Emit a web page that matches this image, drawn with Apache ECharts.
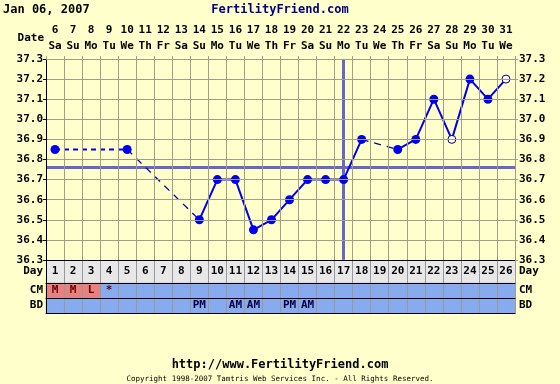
<!DOCTYPE html>
<html><head><meta charset="utf-8">
<script src="https://cdn.jsdelivr.net/npm/echarts@6/dist/echarts.min.js"></script>
<style>html,body{margin:0;padding:0;background:#FFFFCC}#c{width:560px;height:384px}</style>
</head><body><div id="c"></div>
<script>
// ---- data ----
const cycleDays = ['1','2','3','4','5','6','7','8','9','10','11','12','13','14','15','16','17','18','19','20','21','22','23','24','25','26'];
const dates = ['6','7','8','9','10','11','12','13','14','15','16','17','18','19','20','21','22','23','24','25','26','27','28','29','30','31'];
const weekdays = ['Sa','Su','Mo','Tu','We','Th','Fr','Sa','Su','Mo','Tu','We','Th','Fr','Sa','Su','Mo','Tu','We','Th','Fr','Sa','Su','Mo','Tu','We'];
const temps = [36.85,null,null,null,36.85,null,null,null,36.5,36.7,36.7,36.45,36.5,36.6,36.7,36.7,36.7,36.9,null,36.85,36.9,37.1,36.9,37.2,37.1,37.2];
const openPoints = ['23','26'];
const coverline = 36.76;
const ovulationDay = '17';
const cm = ['M','M','L','*','','','','','','','','','','','','','','','','','','','','','',''];
const bd = ['','','','','','','','','PM','','AM','AM','','PM','AM','','','','','','','','','','',''];
const tempMin = 36.3, tempMax = 37.3, tempStep = 0.1;
const headerDate = 'Jan 06, 2007';
const siteName = 'FertilityFriend.com';
const footerUrl = 'http://www.FertilityFriend.com';
const copyright = 'Copyright 1998-2007 Tamtris Web Services Inc. - All Rights Reserved.';

// ---- chart ----
const FONT = '"DejaVu Sans Mono", monospace';
const GRID = '#A09E88';
const BLUE = '#0000EE';
const chart = echarts.init(document.getElementById('c'));
const L = 46, R = 45;

function rowAxes(gridIndex, name) {
  return [
    {gridIndex, type:'category', data:[name], position:'left', z:10,
     axisLine:{lineStyle:{color:'#000'}}, axisTick:{show:false},
     axisLabel:{fontFamily:FONT, fontWeight:'bold', fontSize:11, color:'#000', margin:3}},
    {gridIndex, type:'category', data:[name], position:'right', z:10,
     axisLine:{lineStyle:{color:GRID}}, axisTick:{show:false},
     axisLabel:{fontFamily:FONT, fontWeight:'bold', fontSize:11, color:'#000', margin:4}}
  ];
}
function rowX(gridIndex) {
  return {gridIndex, type:'category', data:cycleDays, position:'bottom', z:10,
    axisLine:{lineStyle:{color:'#000'}}, axisTick:{show:false}, axisLabel:{show:false},
    splitLine:{show:true, interval:0, lineStyle:{color:'#999'}}};
}

const mainData = temps.map((v,i) => {
  if (v === null) return '-';
  if (openPoints.includes(cycleDays[i])) {
    return {value:v, itemStyle:{color:'#FFFFFF', borderColor:'#000080', borderWidth:1}, symbolSize:8};
  }
  return v;
});

// gap connector series
const gapSeries = [];
let prev = -1, gapCount = 0;
temps.forEach((v,i) => {
  if (v === null) return;
  if (prev >= 0 && i - prev > 1) {
    const d = temps.map(() => '-');
    d[prev] = temps[prev]; d[i] = temps[i];
    const first = gapCount === 0;
    gapSeries.push({type:'line', xAxisIndex:0, yAxisIndex:0, data:d, connectNulls:true, symbol:'none', z:1,
      lineStyle: first ? {color:BLUE, width:2, type:[5,4]} : {color:'#0000AA', width:1.3, type:[7,6]}});
    gapCount++;
  }
  prev = i;
});

const cellLabel = {show:true, fontFamily:FONT, fontWeight:'bold', fontSize:11, color:'#000'};

chart.setOption({
  animation:false,
  backgroundColor:'#FFFFCC',
  grid:[
    {left:L, right:R, top:59, height:201, show:false},
    {left:L, right:R, top:260, height:23},
    {left:L, right:R, top:283, height:15},
    {left:L, right:R, top:298, height:15}
  ],
  graphic:[
    {type:'text', left:3, top:4, style:{text:headerDate, font:'bold 12px '+FONT, fill:'#000'}},
    {type:'text', left:'center', top:4, style:{text:siteName, font:'bold 12px '+FONT, fill:'#000080'}},
    {type:'text', right:516, top:33, style:{text:'Date', font:'bold 11px '+FONT, fill:'#000'}},
    {type:'text', left:'center', top:359, style:{text:footerUrl, font:'bold 12px '+FONT, fill:'#000'}},
    {type:'text', left:'center', top:375, style:{text:copyright, font:'7.5px '+FONT, fill:'#000'}}
  ],
  xAxis:[
    {gridIndex:0, type:'category', data:cycleDays, position:'bottom', z:10,
     axisLine:{lineStyle:{color:'#000'}}, axisTick:{show:false}, axisLabel:{show:false},
     splitLine:{show:true, interval:0, lineStyle:{color:GRID}}},
    {gridIndex:0, type:'category', data:dates, position:'top', z:10,
     axisLine:{lineStyle:{color:GRID}}, axisTick:{show:true, interval:0, length:3, lineStyle:{color:GRID}},
     axisLabel:{interval:0, fontFamily:FONT, fontWeight:'bold', fontSize:11, color:'#000', lineHeight:16, margin:5,
       formatter:(v,i) => dates[i] + '\n' + weekdays[i]}},
    rowX(1), rowX(2), rowX(3)
  ],
  yAxis:[
    {gridIndex:0, type:'value', min:tempMin, max:tempMax, interval:tempStep, position:'left', z:10,
     axisLine:{show:true, lineStyle:{color:'#000'}}, axisTick:{show:true, length:3, lineStyle:{color:'#000'}},
     axisLabel:{fontFamily:FONT, fontWeight:'bold', fontSize:11, color:'#000', margin:3, formatter:v => v.toFixed(1)},
     splitLine:{show:true, lineStyle:{color:GRID}}},
    {gridIndex:0, type:'value', min:tempMin, max:tempMax, interval:tempStep, position:'right', z:10,
     axisLine:{show:true, lineStyle:{color:GRID}}, axisTick:{show:true, length:3, lineStyle:{color:GRID}},
     axisLabel:{fontFamily:FONT, fontWeight:'bold', fontSize:11, color:'#000', margin:4, formatter:v => v.toFixed(1)},
     splitLine:{show:false}},
    ...rowAxes(1,'Day'), ...rowAxes(2,'CM'), ...rowAxes(3,'BD')
  ],
  series:[
    ...gapSeries,
    {type:'line', xAxisIndex:0, yAxisIndex:0, data:mainData, connectNulls:false, showSymbol:true,
     symbol:'circle', symbolSize:9, z:3, color:BLUE,
     lineStyle:{color:BLUE, width:2}, itemStyle:{color:BLUE},
     markLine:{silent:true, symbol:'none', label:{show:false}, z:1,
       lineStyle:{color:'#6666CC', width:3, type:'solid'},
       data:[{yAxis:coverline}, {xAxis:ovulationDay}]}},
    {type:'heatmap', xAxisIndex:2, yAxisIndex:2, z:2,
     data:cycleDays.map((d,i) => [i,0,1]),
     itemStyle:{color:'#E8E8E8'},
     label:{...cellLabel, formatter:p => cycleDays[p.dataIndex]}},
    {type:'heatmap', xAxisIndex:3, yAxisIndex:4, z:2,
     data:cm.map((c,i) => ({value:[i,0,1], itemStyle:{color: (c==='M'||c==='L') ? '#E88080' : '#88AAEE'}})),
     label:{...cellLabel, color:'#600000', formatter:p => cm[p.dataIndex]}},
    {type:'heatmap', xAxisIndex:4, yAxisIndex:6, z:2,
     data:bd.map((c,i) => [i,0,1]),
     itemStyle:{color:'#88AAEE'},
     label:{...cellLabel, color:'#000040', formatter:p => bd[p.dataIndex]}}
  ]
});
</script></body></html>
